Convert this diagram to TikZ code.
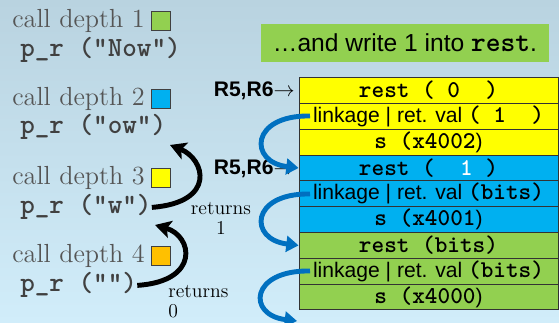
\documentclass[tikz,border=0pt]{standalone}
\usepackage{fontspec}
\setsansfont{Liberation Sans}
\usetikzlibrary{arrows.meta,positioning}

\definecolor{bgtop}{RGB}{185,211,224}
\definecolor{bgbot}{RGB}{209,237,250}
\definecolor{stackyellow}{RGB}{255,255,0}
\definecolor{stackblue}{RGB}{0,176,240}
\definecolor{stackgreen}{RGB}{146,208,80}
\definecolor{depthorange}{RGB}{255,192,0}
\definecolor{linkblue}{RGB}{0,112,192}
\definecolor{depthgrey}{RGB}{85,85,85}
\definecolor{codegrey}{RGB}{64,64,64}

\newcommand{\mono}[1]{{\fontsize{13.7}{14}\selectfont\ttfamily\bfseries #1}}

\tikzset{
  depth/.style={anchor=base west, inner sep=0pt, text=depthgrey, font=\fontsize{14.9}{17}\selectfont},
  call/.style={anchor=base west, inner sep=0pt, text=codegrey, font=\fontsize{15.8}{16}\selectfont\ttfamily\bfseries},
  sq/.style={draw=black!75, line width=0.6pt, minimum size=0.38cm, inner sep=0pt},
  row/.style={draw=black!80, line width=0.5pt, minimum width=5.18cm, minimum height=0.516cm, inner sep=0pt, font=\fontsize{12}{14}\selectfont\sffamily},
  reg/.style={anchor=base east, inner sep=0pt, font=\fontsize{12}{14}\selectfont\sffamily\bfseries},
  ret/.style={inner sep=0pt, font=\fontsize{11.2}{11.4}\selectfont},
  link/.style={draw=linkblue, line width=2.8pt, -{Triangle[length=7pt,width=9pt]}},
  back/.style={draw=black, line width=2.8pt, -{Stealth[length=9pt,width=10pt,inset=2pt]}}
}

\begin{document}
\begin{tikzpicture}[x=0.02cm, y=-0.02cm]
  \useasboundingbox (0,0) rectangle (559,323);
  \shade [top color=bgtop, bottom color=bgbot] (0,0) rectangle (559,323);

  % calls on the left
  \node [depth] (d1) at (12,28) {call depth 1};
  \node [sq, fill=stackgreen, right=0.12cm of d1] (s1) {};
  \node [call] (p1) at (20,57) {p\_r ("Now")};

  \node [depth] (d2) at (12,106) {call depth 2};
  \node [sq, fill=stackblue, right=0.12cm of d2] (s2) {};
  \node [call] (p2) at (20,134) {p\_r ("ow")};

  \node [depth] (d3) at (12,185) {call depth 3};
  \node [sq, fill=stackyellow, right=0.12cm of d3] (s3) {};
  \node [call] (p3) at (20,214) {p\_r ("w")};

  \node [depth] (d4) at (12,263) {call depth 4};
  \node [sq, fill=depthorange, right=0.12cm of d4] (s4) {};
  \node [call] (p4) at (20,292) {p\_r ("")};

  \node [ret, align=center] (ret1) at (221,218) {returns\\1};
  \node [ret, align=left, anchor=west] (ret0) at (168,302) {returns\\0};

  % note
  \node [fill=stackgreen, minimum width=5.76cm, minimum height=0.76cm, font=\fontsize{14}{16}\selectfont\sffamily] (note) at (405,43) {…and write 1 into {\fontsize{16}{16}\selectfont\ttfamily\bfseries rest}.};

  % stack
  \node [row, fill=stackyellow] (y1) at (428.5,90.6) {\mono{rest (~0~~)}};
  \node [row, fill=stackyellow] (y2) at (428.5,116.4) {linkage | ret. val \mono{(~1~~)}};
  \node [row, fill=stackyellow] (y3) at (428.5,142.2) {\mono{s (x4002})};
  \node [row, fill=stackblue] (b1) at (428.5,168) {\mono{rest (~~\textcolor{white}{1}~)}};
  \node [row, fill=stackblue] (b2) at (428.5,193.8) {linkage | ret. val \mono{(bits)}};
  \node [row, fill=stackblue] (b3) at (428.5,219.6) {\mono{s (x4001})};
  \node [row, fill=stackgreen] (g1) at (428.5,245.4) {\mono{rest (bits)}};
  \node [row, fill=stackgreen] (g2) at (428.5,271.2) {linkage | ret. val \mono{(bits)}};
  \node [row, fill=stackgreen] (g3) at (428.5,297) {\mono{s (x4000})};

  \node [reg] (r1) at (295,97) {R5,R6$\rightarrow$};
  \node [reg] (r2) at (295,175) {R5,R6$\rightarrow$};

  % links
  \coordinate (k1) at (310,116);
  \coordinate (k2) at (310,194);
  \coordinate (k3) at (310,271);
  \coordinate (e3) at (297,321);
  \draw [link] (k1) .. controls +(-60,-1) and +(-50,-6) .. (b1.west);
  \draw [link] (k2) .. controls +(-60,-1) and +(-50,-6) .. (g1.west);
  \draw [link] (k3) .. controls +(-60,-1) and +(-50,-6) .. (e3);

  % returns
  \coordinate (t2) at (170,145);
  \coordinate (t3) at (155,225);
  \draw [back] (p3.east) .. controls +(65,-5) and +(35,14) .. (t2);
  \draw [back] (p4.east) .. controls +(63,-4) and +(38,11) .. (t3);
\end{tikzpicture}
\end{document}
